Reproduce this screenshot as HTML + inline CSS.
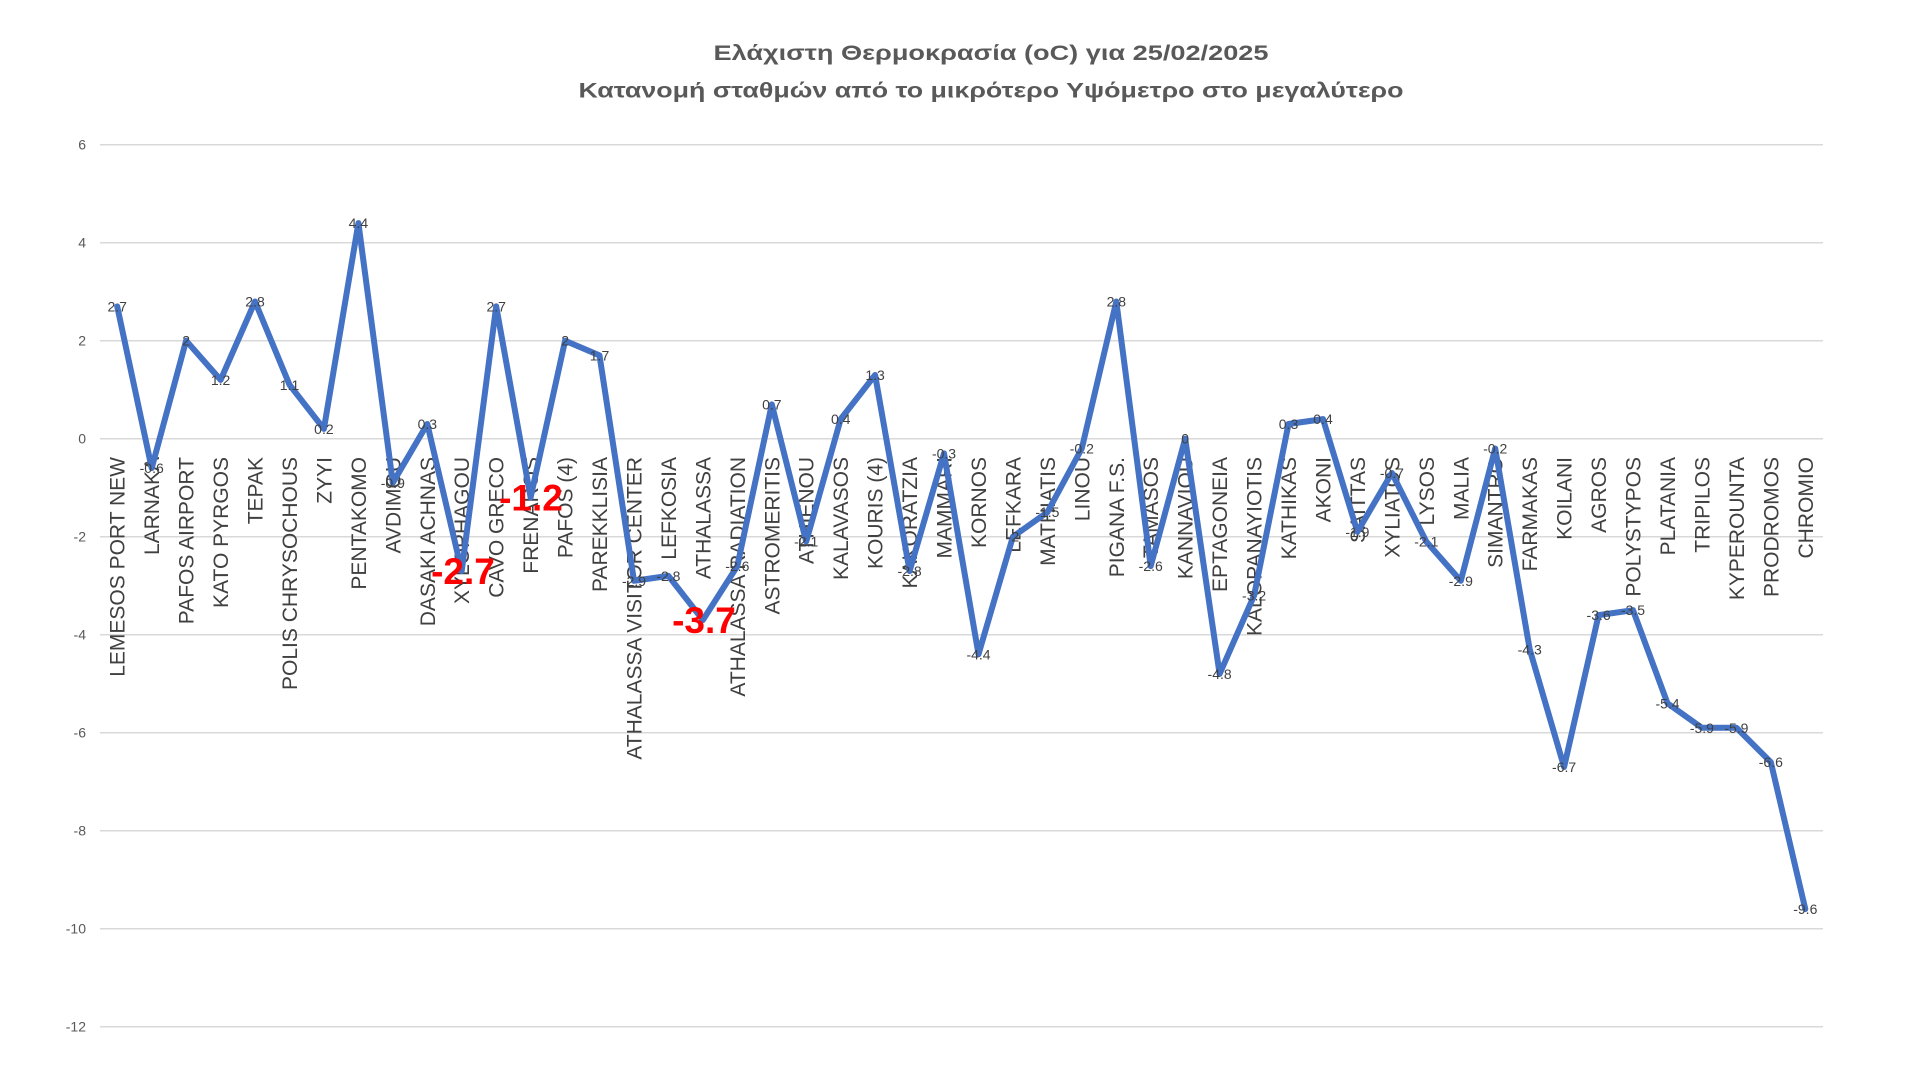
<!DOCTYPE html>
<html>
<head>
<meta charset="utf-8">
<style>
html,body{margin:0;padding:0;background:#fff;}
svg{display:block;}
</style>
</head>
<body>
<svg width="1920" height="1080" viewBox="0 0 1920 1080" xmlns="http://www.w3.org/2000/svg">
<rect width="1920" height="1080" fill="#ffffff"/>
<!-- title -->
<g font-family="'Liberation Sans', 'DejaVu Sans', sans-serif" font-weight="bold" fill="#595959" font-size="21" text-anchor="middle">
<text x="991" y="60" textLength="555" lengthAdjust="spacingAndGlyphs">Ελάχιστη Θερμοκρασία (oC) για 25/02/2025</text>
<text x="991" y="97.5" textLength="825" lengthAdjust="spacingAndGlyphs">Κατανομή σταθμών από το μικρότερο Υψόμετρο στο μεγαλύτερο</text>
</g>
<!-- gridlines -->
<g stroke="#d9d9d9" stroke-width="1.5">
<line x1="100" x2="1823" y1="144.7" y2="144.7"/>
<line x1="100" x2="1823" y1="242.7" y2="242.7"/>
<line x1="100" x2="1823" y1="340.7" y2="340.7"/>
<line x1="100" x2="1823" y1="438.7" y2="438.7"/>
<line x1="100" x2="1823" y1="536.7" y2="536.7"/>
<line x1="100" x2="1823" y1="634.7" y2="634.7"/>
<line x1="100" x2="1823" y1="732.7" y2="732.7"/>
<line x1="100" x2="1823" y1="830.7" y2="830.7"/>
<line x1="100" x2="1823" y1="928.7" y2="928.7"/>
<line x1="100" x2="1823" y1="1026.7" y2="1026.7"/>
</g>
<!-- y tick labels -->
<g font-family="'Liberation Sans', sans-serif" font-size="14" fill="#595959" text-anchor="end">
<text x="86" y="149.7">6</text>
<text x="86" y="247.7">4</text>
<text x="86" y="345.7">2</text>
<text x="86" y="443.7">0</text>
<text x="86" y="541.7">-2</text>
<text x="86" y="639.7">-4</text>
<text x="86" y="737.7">-6</text>
<text x="86" y="835.7">-8</text>
<text x="86" y="933.7">-10</text>
<text x="86" y="1031.7">-12</text>
</g>
<!-- category labels -->
<g font-family="'Liberation Sans', sans-serif" font-size="21" fill="#404040" text-anchor="end">
<text transform="translate(124.7,457) rotate(-90)">LEMESOS PORT NEW</text>
<text transform="translate(159.2,457) rotate(-90)">LARNAKA</text>
<text transform="translate(193.6,457) rotate(-90)">PAFOS AIRPORT</text>
<text transform="translate(228.1,457) rotate(-90)">KATO PYRGOS</text>
<text transform="translate(262.5,457) rotate(-90)">TEPAK</text>
<text transform="translate(297,457) rotate(-90)">POLIS CHRYSOCHOUS</text>
<text transform="translate(331.4,457) rotate(-90)">ZYYI</text>
<text transform="translate(365.9,457) rotate(-90)">PENTAKOMO</text>
<text transform="translate(400.3,457) rotate(-90)">AVDIMOU</text>
<text transform="translate(434.8,457) rotate(-90)">DASAKI ACHNAS</text>
<text transform="translate(469.2,457) rotate(-90)">XYLOPHAGOU</text>
<text transform="translate(503.7,457) rotate(-90)">CAVO GRECO</text>
<text transform="translate(538.1,457) rotate(-90)">FRENAROS</text>
<text transform="translate(572.6,457) rotate(-90)">PAFOS (4)</text>
<text transform="translate(607,457) rotate(-90)">PAREKKLISIA</text>
<text transform="translate(641.5,457) rotate(-90)">ATHALASSA VISITOR CENTER</text>
<text transform="translate(675.9,457) rotate(-90)">LEFKOSIA</text>
<text transform="translate(710.4,457) rotate(-90)">ATHALASSA</text>
<text transform="translate(744.8,457) rotate(-90)">ATHALASSA RADIATION</text>
<text transform="translate(779.3,457) rotate(-90)">ASTROMERITIS</text>
<text transform="translate(813.7,457) rotate(-90)">ATHIENOU</text>
<text transform="translate(848.2,457) rotate(-90)">KALAVASOS</text>
<text transform="translate(882.6,457) rotate(-90)">KOURIS (4)</text>
<text transform="translate(917.1,457) rotate(-90)">KAKORATZIA</text>
<text transform="translate(951.5,457) rotate(-90)">MAMMARI</text>
<text transform="translate(986,457) rotate(-90)">KORNOS</text>
<text transform="translate(1020.4,457) rotate(-90)">LEFKARA</text>
<text transform="translate(1054.9,457) rotate(-90)">MATHIATIS</text>
<text transform="translate(1089.3,457) rotate(-90)">LINOU</text>
<text transform="translate(1123.8,457) rotate(-90)">PIGANA F.S.</text>
<text transform="translate(1158.2,457) rotate(-90)">TAMASOS</text>
<text transform="translate(1192.7,457) rotate(-90)">KANNAVIOU</text>
<text transform="translate(1227.1,457) rotate(-90)">EPTAGONEIA</text>
<text transform="translate(1261.6,457) rotate(-90)">KALOPANAYIOTIS</text>
<text transform="translate(1296,457) rotate(-90)">KATHIKAS</text>
<text transform="translate(1330.5,457) rotate(-90)">AKONI</text>
<text transform="translate(1364.9,457) rotate(-90)">SAITTAS</text>
<text transform="translate(1399.4,457) rotate(-90)">XYLIATOS</text>
<text transform="translate(1433.8,457) rotate(-90)">LYSOS</text>
<text transform="translate(1468.3,457) rotate(-90)">MALIA</text>
<text transform="translate(1502.7,457) rotate(-90)">SIMANTRO</text>
<text transform="translate(1537.2,457) rotate(-90)">FARMAKAS</text>
<text transform="translate(1571.6,457) rotate(-90)">KOILANI</text>
<text transform="translate(1606.1,457) rotate(-90)">AGROS</text>
<text transform="translate(1640.5,457) rotate(-90)">POLYSTYPOS</text>
<text transform="translate(1675,457) rotate(-90)">PLATANIA</text>
<text transform="translate(1709.4,457) rotate(-90)">TRIPILOS</text>
<text transform="translate(1743.9,457) rotate(-90)">KYPEROUNTA</text>
<text transform="translate(1778.3,457) rotate(-90)">PRODROMOS</text>
<text transform="translate(1812.8,457) rotate(-90)">CHROMIO</text>
</g>
<!-- series line -->
<polyline fill="none" stroke="#4472C4" stroke-width="6" stroke-linejoin="round" stroke-linecap="round" points="117.2,306.4 151.7,468.1 186.1,340.7 220.6,379.9 255,301.5 289.5,384.8 323.9,428.9 358.4,223.1 392.8,482.8 427.3,424 461.7,571 496.2,306.4 530.6,497.5 565.1,340.7 599.5,355.4 634,580.8 668.4,575.9 702.9,620 737.3,566.1 771.8,404.4 806.2,541.6 840.7,419.1 875.1,375 909.6,571 944,453.4 978.5,654.3 1012.9,536.7 1047.4,512.2 1081.8,448.5 1116.3,301.5 1150.7,566.1 1185.2,438.7 1219.6,673.9 1254.1,595.5 1288.5,424 1323,419.1 1357.4,531.8 1391.9,473 1426.3,541.6 1460.8,580.8 1495.2,448.5 1529.7,649.4 1564.1,767 1598.6,615.1 1633,610.2 1667.5,703.3 1701.9,727.8 1736.4,727.8 1770.8,762.1 1805.3,909.1"/>
<!-- data labels -->
<g font-family="'Liberation Sans', sans-serif" font-size="14" fill="#404040" text-anchor="middle">
<text x="117.2" y="311.4">2.7</text>
<text x="151.7" y="473.1">-0.6</text>
<text x="186.1" y="345.7">2</text>
<text x="220.6" y="384.9">1.2</text>
<text x="255" y="306.5">2.8</text>
<text x="289.5" y="389.8">1.1</text>
<text x="323.9" y="433.9">0.2</text>
<text x="358.4" y="228.1">4.4</text>
<text x="392.8" y="487.8">-0.9</text>
<text x="427.3" y="429">0.3</text>
<text x="496.2" y="311.4">2.7</text>
<text x="565.1" y="345.7">2</text>
<text x="599.5" y="360.4">1.7</text>
<text x="634" y="585.8">-2.9</text>
<text x="668.4" y="580.9">-2.8</text>
<text x="737.3" y="571.1">-2.6</text>
<text x="771.8" y="409.4">0.7</text>
<text x="806.2" y="546.6">-2.1</text>
<text x="840.7" y="424.1">0.4</text>
<text x="875.1" y="380">1.3</text>
<text x="909.6" y="576">-2.8</text>
<text x="944" y="458.4">-0.3</text>
<text x="978.5" y="659.3">-4.4</text>
<text x="1012.9" y="541.7">-2</text>
<text x="1047.4" y="517.2">-1.5</text>
<text x="1081.8" y="453.5">-0.2</text>
<text x="1116.3" y="306.5">2.8</text>
<text x="1150.7" y="571.1">-2.6</text>
<text x="1185.2" y="443.7">0</text>
<text x="1219.6" y="678.9">-4.8</text>
<text x="1254.1" y="600.5">-3.2</text>
<text x="1288.5" y="429">0.3</text>
<text x="1323" y="424.1">0.4</text>
<text x="1357.4" y="536.8">-1.9</text>
<text x="1391.9" y="478">-0.7</text>
<text x="1426.3" y="546.6">-2.1</text>
<text x="1460.8" y="585.8">-2.9</text>
<text x="1495.2" y="453.5">-0.2</text>
<text x="1529.7" y="654.4">-4.3</text>
<text x="1564.1" y="772">-6.7</text>
<text x="1598.6" y="620.1">-3.6</text>
<text x="1633" y="615.2">-3.5</text>
<text x="1667.5" y="708.3">-5.4</text>
<text x="1701.9" y="732.8">-5.9</text>
<text x="1736.4" y="732.8">-5.9</text>
<text x="1770.8" y="767.1">-6.6</text>
<text x="1805.3" y="914.1">-9.6</text>
</g>
<!-- highlighted red labels -->
<g font-family="'Liberation Sans', sans-serif" font-size="37" font-weight="bold" fill="#FF0000" text-anchor="middle">
<text x="463" y="584">-2.7</text>
<text x="531" y="510.5">-1.2</text>
<text x="704" y="633">-3.7</text>
</g>
</svg>
</body>
</html>
